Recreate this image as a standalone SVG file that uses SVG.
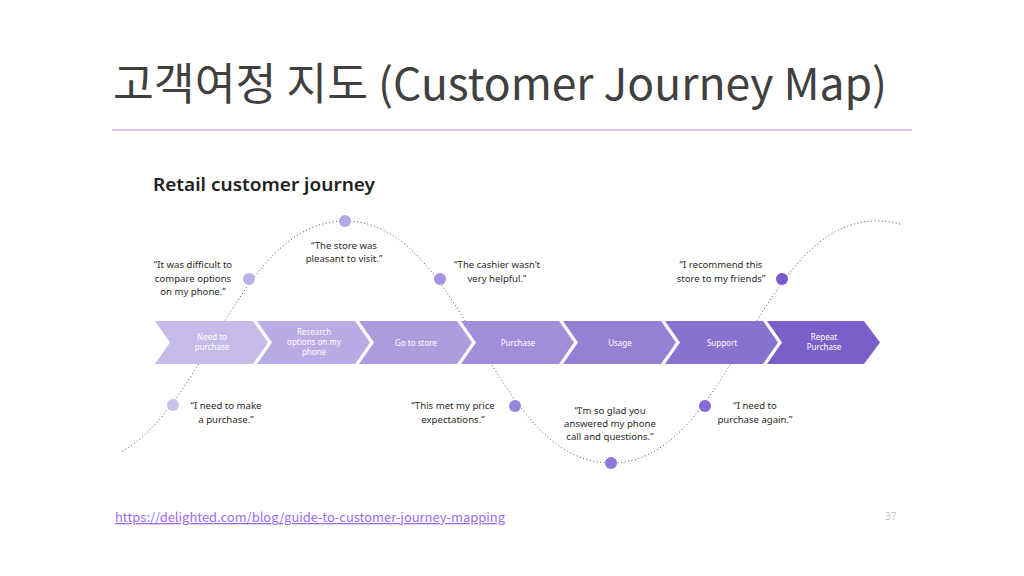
<svg xmlns="http://www.w3.org/2000/svg" width="1024" height="576" viewBox="0 0 1024 576">
  <defs>
    <style>
      .title { font-family: "Noto Sans CJK KR", "Noto Sans", sans-serif; font-size: 44px; fill: #404040; }
      .sub { font-family: "Noto Sans", "Liberation Sans", sans-serif; font-size: 18.5px; font-weight: 600; fill: #1e1e1e; }
      .q { font-family: "Noto Sans", "Liberation Sans", sans-serif; font-size: 9.6px; fill: #2b2b2b; text-anchor: middle; }
      .ct { font-family: "Noto Sans", "Liberation Sans", sans-serif; font-size: 8px; fill: #ffffff; text-anchor: middle; }
      .curve { fill: none; stroke: #555555; stroke-width: 1; stroke-dasharray: 1 2.5; }
      .url { font-family: "Noto Sans CJK KR", "Noto Sans", sans-serif; font-size: 13px; fill: #9b6cf2; text-decoration: underline; }
      .pg { font-family: "Noto Sans", "Liberation Sans", sans-serif; font-size: 10px; fill: #c8c8c8; }
    </style>
    <clipPath id="clipCurve">
      <rect x="121" y="200" width="780" height="280"/>
    </clipPath>
  </defs>

  <rect x="0" y="0" width="1024" height="576" fill="#ffffff"/>

  <g id="title">
    <text class="title" x="113" y="100" textLength="774" lengthAdjust="spacingAndGlyphs">고객여정 지도 (Customer Journey Map)</text>
    <line x1="112" y1="130" x2="912" y2="130" stroke="#cdb6f7" stroke-width="1.5"/>
  </g>

  <g id="subtitle">
    <text class="sub" x="153" y="191" textLength="222" lengthAdjust="spacingAndGlyphs">Retail customer journey</text>
  </g>

  <g id="connectors">
    <path class="curve" clip-path="url(#clipCurve)" d="M79,463 C199,463 225,221 345,221 C465,221 491,463 611,463 C731,463 757,221 877,221 C997,221 1023,463 1143,463"/>
  </g>

  <g id="stage-1">
    <polygon points="155,321 253,321 268,342.5 253,364 155,364 170,342.5" fill="#c5bae8"/>
    <text class="ct" x="212" y="340">Need to</text>
    <text class="ct" x="212" y="350">purchase</text>
  </g>
  <g id="stage-2">
    <polygon points="257,321 355,321 370,342.5 355,364 257,364 272,342.5" fill="#b9abe3"/>
    <text class="ct" x="314" y="335">Research</text>
    <text class="ct" x="314" y="345">options on my</text>
    <text class="ct" x="314" y="355">phone</text>
  </g>
  <g id="stage-3">
    <polygon points="359,321 457,321 472,342.5 457,364 359,364 374,342.5" fill="#ac9cdd"/>
    <text class="ct" x="416" y="345.5">Go to store</text>
  </g>
  <g id="stage-4">
    <polygon points="461,321 559,321 574,342.5 559,364 461,364 476,342.5" fill="#a08ed9"/>
    <text class="ct" x="518" y="345.5">Purchase</text>
  </g>
  <g id="stage-5">
    <polygon points="563,321 661,321 676,342.5 661,364 563,364 578,342.5" fill="#9481d4"/>
    <text class="ct" x="620" y="345.5">Usage</text>
  </g>
  <g id="stage-6">
    <polygon points="665,321 763,321 778,342.5 763,364 665,364 680,342.5" fill="#8872cf"/>
    <text class="ct" x="722" y="345.5">Support</text>
  </g>
  <g id="stage-7">
    <polygon points="767,321 864,321 880,342.5 864,364 767,364 782,342.5" fill="#7b5fc8"/>
    <text class="ct" x="824" y="340">Repeat</text>
    <text class="ct" x="824" y="350">Purchase</text>
  </g>

  <g id="point-1">
    <circle cx="173" cy="405" r="6" fill="#cbc2ee"/>
    <text class="q" x="226" y="409">“I need to make</text>
    <text class="q" x="226" y="423">a purchase.”</text>
  </g>
  <g id="point-2">
    <circle cx="249" cy="279" r="6" fill="#bdb0e8"/>
    <text class="q" x="193" y="268">“It was difficult to</text>
    <text class="q" x="193" y="282">compare options</text>
    <text class="q" x="193" y="295">on my phone.”</text>
  </g>
  <g id="point-3">
    <circle cx="345" cy="221" r="6" fill="#b4a5e6"/>
    <text class="q" x="344" y="249">“The store was</text>
    <text class="q" x="344" y="262">pleasant to visit.”</text>
  </g>
  <g id="point-4">
    <circle cx="440" cy="279" r="6" fill="#a693e0"/>
    <text class="q" x="497" y="268">“The cashier wasn’t</text>
    <text class="q" x="497" y="282">very helpful.”</text>
  </g>
  <g id="point-5">
    <circle cx="515" cy="406" r="6" fill="#9a85dc"/>
    <text class="q" x="453" y="409">“This met my price</text>
    <text class="q" x="453" y="423">expectations.”</text>
  </g>
  <g id="point-6">
    <circle cx="611" cy="463" r="6" fill="#8f76d8"/>
    <text class="q" x="610" y="414">“I’m so glad you</text>
    <text class="q" x="610" y="427">answered my phone</text>
    <text class="q" x="610" y="440">call and questions.”</text>
  </g>
  <g id="point-7">
    <circle cx="705" cy="406" r="6" fill="#8569d4"/>
    <text class="q" x="755" y="409">“I need to</text>
    <text class="q" x="755" y="423">purchase again.”</text>
  </g>
  <g id="point-8">
    <circle cx="782" cy="279" r="6" fill="#7a59cf"/>
    <text class="q" x="721" y="268">“I recommend this</text>
    <text class="q" x="721" y="282">store to my friends”</text>
  </g>

  <g id="footer">
    <text class="url" x="115" y="522" textLength="390" lengthAdjust="spacingAndGlyphs">https://delighted.com/blog/guide-to-customer-journey-mapping</text>
    <text class="pg" x="885" y="520">37</text>
  </g>
</svg>
